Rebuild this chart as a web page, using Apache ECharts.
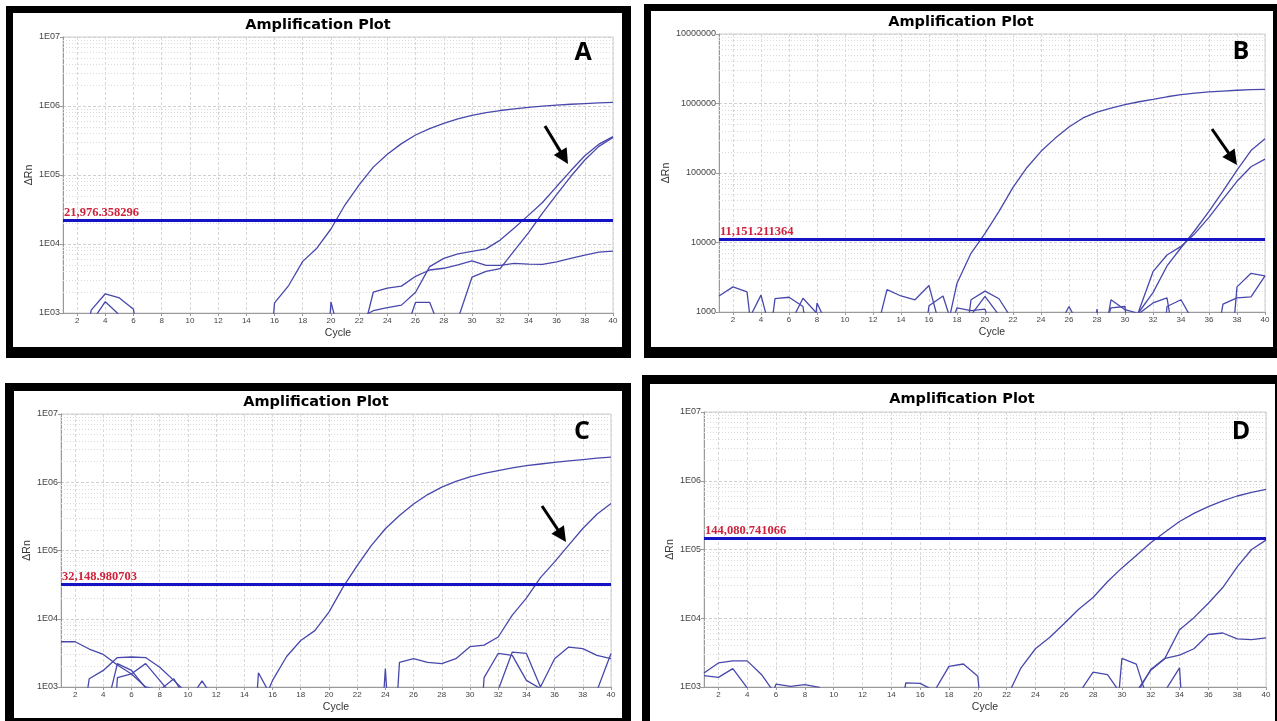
<!DOCTYPE html>
<html><head><meta charset="utf-8">
<script src="https://cdn.jsdelivr.net/npm/echarts@6/dist/echarts.min.js"></script>
<style>html,body{margin:0;padding:0;background:#fff}#c{width:1277px;height:721px}</style>
</head><body><div id="c"></div>
<script>
// ---------------- DATA ----------------
const cycles = [1,2,3,4,5,6,7,8,9,10,11,12,13,14,15,16,17,18,19,20,21,22,23,24,25,26,27,28,29,30,31,32,33,34,35,36,37,38,39,40];

const yTicks = [1000, 10000, 100000, 1000000, 10000000];
const yLabelsSci = ['1E03','1E04','1E05','1E06','1E07'];
const yLabelsPlain = ['1000','10000','100000','1000000','10000000'];

const thresholds = [21976.358296, 11151.211364, 32148.980703, 144080.741066];
const thresholdLabels = ['21,976.358296', '11,151.211364', '32,148.980703', '144,080.741066'];
const panelLetters = ['A', 'B', 'C', 'D'];

// Panel A
const aStrong = [300,300,300,300,300,300,300,300,300,300, 300,300,300,300,5,1400,2500,5600,8700,16500, 37000,72000,130000,200000,285000,380000,470000,560000,650000,730000, 800000,860000,910000,955000,995000,1030000,1060000,1085000,1110000,1130000];
const aArrow1 = [300,300,300,300,300,300,300,300,300,300, 300,300,300,300,300,300,300,300,300,300, 300,830,1080,1200,1300,2000,4700,6200,7200,7800, 8500,11400,17000,26000,40000,68000,115000,190000,280000,360000];
const aArrow2 = [300,300,300,300,300,300,300,300,300,300, 300,300,300,300,300,300,300,300,300,300, 300,300,300,300,300,300,300,300,810,3300, 4000,4400,8000,14500,28000,52000,95000,165000,260000,350000];
const aLate = [300,300,300,300,300,300,300,300,300,300, 300,300,300,300,300,300,300,300,300,300, 300,300,2000,2300,2450,3400,4200,4450,5000,5700, 4900,4900,5250,5100,5050,5500,6200,6900,7600,7900];
const aNoise1 = [100,100,1100,1900,1650,1130,50,100,100,100, 100,100,100,100,100,100,100,100,1,1450, 230,100,100,100,360,1430,1430,430,100,100, 100,100,100,100,100,100,100,100,100,100];
const aNoise2 = [100,100,730,1460,935,100,100,100,100,100, 100,100,100,100,100,100,100,100,100,100, 100,100,100,100,100,100,100,100,100,100, 100,100,100,100,100,100,100,100,100,100];

// Panel B
const bStrong = [300,300,300,300,300,300,300,300,300,300, 300,300,300,300,300,300,310,2600,7000,13500, 28000,62000,120000,205000,315000,460000,620000,750000,860000,960000, 1060000,1150000,1250000,1340000,1410000,1470000,1510000,1550000,1580000,1600000];
const bArrow1 = [300,300,300,300,300,300,300,300,300,300, 300,300,300,300,300,300,300,300,300,300, 300,300,300,300,300,300,300,300,300,100, 1000,1900,4600,8400,15000,28000,55000,110000,210000,310000];
const bArrow2 = [300,300,300,300,300,300,300,300,300,300, 300,300,300,300,300,300,300,300,300,300, 300,300,300,300,300,300,300,300,300,100, 1050,3800,6600,8800,13500,23000,42000,76000,123000,158000];
const bNoise1 = [1700,2300,1950,40,1560,1630,1200,40,40,40, 40,330,2100,1700,1500,2400,420,40,1500,2000, 1550,750,100,100,500,1200,500,100,1500,1080, 950,1350,1600,100,100,100,1300,1600,1650,3300];
const bNoise2 = [40,40,700,1750,300,630,1580,950,40,40, 40,40,40,40,40,1230,1700,400,900,1680, 900,100,100,100,100,100,100,300,1150,1200, 10,10,1200,1500,660,100,10,2300,3600,3300];
const bNoise3 = [40,40,40,40,40,40,10,1350,500,100, 100,100,100,100,100,100,300,1150,1050,1100, 300,100,100,100,100,100,10,1100,10,100, 100,100,100,100,100,100,100,100,100,100];

// Panel C
const cStrong = [300,300,300,300,300,300,300,300,300,300, 300,300,300,300,400,1250,2800,4800,6700,12500, 29000,60000,118000,208000,325000,480000,660000,850000,1030000,1200000, 1350000,1480000,1620000,1750000,1850000,1950000,2050000,2150000,2250000,2330000];
const cArrow = [300,300,300,300,300,300,300,300,300,300, 300,300,300,300,300,300,300,300,300,300, 300,300,300,1,2300,2600,2300,2200,2600,3900, 4100,5400,11300,20000,40000,68000,120000,210000,340000,490000];
const cNoise1 = [4600,4600,3600,3000,2100,1550,1000,900,1320,600, 1230,600,100,1,1620,670,100,100,100,100, 100,100,1,1860,1,100,100,100,100,1, 1370,3100,2900,1250,950,100,100,100,880,3100];
const cNoise2 = [100,50,1320,1750,2700,2750,2700,1950,1250,790, 100,100,100,100,100,100,100,100,100,100, 100,100,100,100,100,100,100,100,100,100, 100,900,3250,3100,1000,2600,3850,3650,2900,2600];
const cNoise3 = [100,100,100,310,2200,1750,970,100,100,100, 100,100,100,100,100,100,100,100,100,100, 100,100,100,100,100,100,100,100,100,100, 100,100,100,100,100,100,100,100,100,100];
const cNoise4 = [100,100,100,1,1370,1560,2200,1250,700,100, 100,100,100,100,100,100,100,100,100,100, 100,100,100,100,100,100,100,100,100,100, 100,100,100,100,100,100,100,100,100,100];

// Panel D
const dStrong = [300,300,300,300,300,300,300,300,300,300, 300,300,300,300,300,300,300,300,300,300, 300,700,1900,3600,5300,8400,13500,20000,34000,54000, 82000,125000,180000,255000,335000,420000,510000,600000,680000,750000];
const dLate1 = [300,300,300,300,300,300,300,300,300,300, 300,300,300,300,300,300,300,300,300,300, 300,300,300,300,300,300,300,300,300,300, 780,1800,2650,6800,10200,16500,28000,56000,100000,137000];
const dLate2 = [300,300,300,300,300,300,300,300,300,300, 300,300,300,300,300,300,300,300,300,300, 300,300,300,300,300,300,300,300,300,300, 850,1750,2600,2900,3600,5800,6100,5000,4900,5200];
const dNoise1 = [1600,2240,2400,2400,1510,760,300,300,300,300, 300,300,300,50,1150,1130,880,2000,2160,1430, 10,300,300,300,300,300,800,1650,1510,760, 300,300,300,300,300,300,300,300,300,300];
const dNoise2 = [1460,1380,1850,970,300,1100,1020,1080,990,300, 300,300,300,300,300,300,300,300,300,300, 300,300,300,300,300,300,300,300,10,2600, 2150,470,880,1900,1,300,300,300,300,300];

const panelSeries = [
  [aNoise1, aNoise2, aLate, aArrow2, aArrow1, aStrong],
  [bNoise1, bNoise2, bNoise3, bArrow2, bArrow1, bStrong],
  [cNoise1, cNoise2, cNoise3, cNoise4, cArrow, cStrong],
  [dNoise1, dNoise2, dLate2, dLate1, dStrong]
];

// ---------------- LAYOUT / STYLE ----------------
const layout = [
  {grid:{left:63, top:37, width:550, height:276}, outer:[6,6,625,352], inner:[13,13,609,334], title:[318,25], letter:[583,53], arrow:[545,126,568,164], yGap:28, sci:true},
  {grid:{left:719, top:34, width:546, height:278}, outer:[644,4,633,354], inner:[651,11,622,336], title:[961,22], letter:[1241,52], arrow:[1212,129,1237,165], yGap:47, sci:false},
  {grid:{left:61, top:414, width:550, height:273}, outer:[5,383,626,338], inner:[14,391,608,327], title:[316,402], letter:[582,432], arrow:[542,506,566,542], yGap:27, sci:true},
  {grid:{left:704, top:412, width:562, height:275}, outer:[642,375,635,346], inner:[650,384,625,337], title:[962,399], letter:[1241,432], arrow:null, yGap:19, sci:true}
];

const curveColor = '#4848ac';
const axisColor = '#9a9a9a';
const labelFont = '"Liberation Sans", Arial, sans-serif';
const evenOnly = (idx, val) => Number(val) % 2 === 0;

const minorValues = [];
[1e3,1e4,1e5,1e6].forEach(d => [2,3,4,5,6,7,8,9].forEach(m => minorValues.push(d*m)));

const grids = [], xAxes = [], yAxes = [], series = [], graphics = [];

layout.forEach((L, i) => {
  grids.push(Object.assign({show:true, borderColor:'#cfcfcf', borderWidth:1, backgroundColor:'transparent', containLabel:false}, L.grid));
  xAxes.push({
    type:'category', gridIndex:i, data:cycles, boundaryGap:false,
    axisLine:{show:true, lineStyle:{color:axisColor, width:1}},
    axisTick:{show:true, length:3, interval:evenOnly, lineStyle:{color:axisColor}},
    axisLabel:{interval:evenOnly, fontSize:8, color:'#444', margin:4, fontFamily:labelFont},
    splitLine:{show:true, interval:evenOnly, lineStyle:{color:'#d8d8d8', type:[3,2], width:1}},
    name:'Cycle', nameLocation:'middle', nameGap:15,
    nameTextStyle:{fontSize:10.5, color:'#333', fontFamily:labelFont}
  });
  const labels = L.sci ? yLabelsSci : yLabelsPlain;
  yAxes.push({
    type:'log', gridIndex:i, logBase:10, min:1000, max:10000000,
    axisLine:{show:true, lineStyle:{color:axisColor, width:1}},
    axisTick:{show:true, length:3, lineStyle:{color:axisColor}},
    axisLabel:{fontSize:9, color:'#444', margin:3, fontFamily:labelFont,
      formatter:(v) => { const k = yTicks.findIndex(t => Math.abs(Math.log10(t) - Math.log10(v)) < 0.01); return k >= 0 ? labels[k] : ''; }},
    splitLine:{show:true, lineStyle:{color:'#d0d0d0', type:[3,2], width:1}},
    name:'\u0394Rn', nameLocation:'middle', nameGap:L.yGap,
    nameTextStyle:{fontSize:10.5, color:'#333', fontFamily:labelFont}
  });
  // minor log grid lines
  series.push({
    type:'line', xAxisIndex:i, yAxisIndex:i, data:[], silent:true, animation:false, z:1,
    markLine:{silent:true, symbol:['none','none'], animation:false, z:1, label:{show:false},
      lineStyle:{color:'#dcdcdc', type:[1,2], width:1},
      data:minorValues.map(v => ({yAxis:v}))}
  });
  // amplification curves
  panelSeries[i].forEach(arr => {
    series.push({
      type:'line', xAxisIndex:i, yAxisIndex:i, data:arr, symbol:'none', showSymbol:false,
      silent:true, animation:false, clip:true, z:3,
      lineStyle:{color:curveColor, width:1.3}
    });
  });
  // threshold
  series.push({
    type:'line', xAxisIndex:i, yAxisIndex:i, data:[], silent:true, animation:false, z:4,
    markLine:{silent:true, symbol:['none','none'], animation:false, z:6,
      lineStyle:{color:'#1414c4', width:3.2, type:'solid'},
      label:{show:true, position:'insideStartTop', distance:[1,1], formatter:thresholdLabels[i],
        color:'#d0223a', fontFamily:'"Liberation Serif", "Times New Roman", serif', fontWeight:'bold', fontSize:12.5},
      data:[{yAxis:thresholds[i]}]}
  });

  // frames
  graphics.push({type:'rect', z:-20, silent:true, shape:{x:L.outer[0], y:L.outer[1], width:L.outer[2], height:L.outer[3]}, style:{fill:'#000'}});
  graphics.push({type:'rect', z:-19, silent:true, shape:{x:L.inner[0], y:L.inner[1], width:L.inner[2], height:L.inner[3]}, style:{fill:'#fff'}});
  // title
  graphics.push({type:'text', z:10, silent:true, x:L.title[0], y:L.title[1],
    style:{text:'Amplification Plot', font:'bold 14.5px "DejaVu Sans", sans-serif', fill:'#000',
      align:'center', verticalAlign:'middle', textAlign:'center', textVerticalAlign:'middle'}});
  // panel letter
  graphics.push({type:'text', z:10, silent:true, x:L.letter[0], y:L.letter[1],
    style:{text:panelLetters[i], font:'bold 25px "Open Sans", sans-serif', fill:'#000',
      align:'center', verticalAlign:'middle', textAlign:'center', textVerticalAlign:'middle'}});
  // arrow annotation
  if (L.arrow) {
    const [x1,y1,x2,y2] = L.arrow;
    const dx = x2-x1, dy = y2-y1, len = Math.hypot(dx,dy), ux = dx/len, uy = dy/len;
    const hl = 15, hw = 7.5;
    const bx = x2 - ux*hl, by = y2 - uy*hl;
    graphics.push({type:'line', z:10, silent:true, shape:{x1:x1, y1:y1, x2:bx + ux*2, y2:by + uy*2}, style:{stroke:'#000', lineWidth:3}});
    graphics.push({type:'polygon', z:10, silent:true, shape:{points:[[x2,y2],[bx - uy*hw, by + ux*hw],[bx + uy*hw, by - ux*hw]]}, style:{fill:'#000'}});
  }
});

const chart = echarts.init(document.getElementById('c'), null, {renderer:'canvas'});
chart.setOption({
  backgroundColor:'#ffffff',
  animation:false,
  grid:grids, xAxis:xAxes, yAxis:yAxes, series:series,
  graphic:{elements:graphics}
});
</script>
</body></html>
